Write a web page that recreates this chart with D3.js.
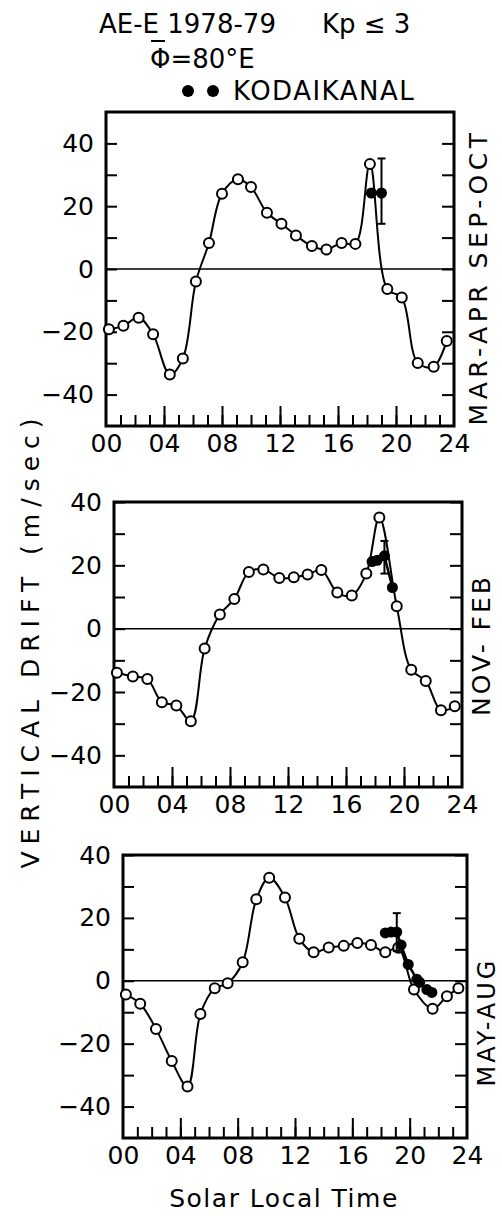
<!DOCTYPE html>
<html>
<head>
<meta charset="utf-8">
<script src="https://cdn.jsdelivr.net/npm/d3@7"></script>
<style>
  body { margin: 0; background: #fff; }
  svg { display: block; font-family: "DejaVu Sans", sans-serif; }
</style>
</head>
<body>
<svg id="chart"></svg>
<script>
// values (hours = solar local time, drift in m/s)
const seasons = ['MAR-APR SEP-OCT', 'NOV- FEB', 'MAY-AUG'];
const hourTicks = [0, 4, 8, 12, 16, 20, 24];
const driftTicks = [40, 20, 0, -20, -40];

// AE-E, equinox
const hoursEqu = [0.2, 1.2, 2.25, 3.25, 4.4, 5.3, 6.2, 7.1, 8.0, 9.1, 10.0, 11.1, 12.1, 13.1, 14.2, 15.2, 16.25, 17.2, 18.2, 19.4, 20.4, 21.5, 22.6, 23.5];
const driftEqu = [-19.2, -18.1, -15.5, -20.8, -33.6, -28.5, -4.0, 8.3, 24.0, 28.6, 26.1, 17.9, 14.4, 10.7, 7.3, 6.2, 8.3, 8.0, 33.4, -6.4, -9.1, -29.9, -31.1, -22.9];
const kodHoursEqu = [18.3, 19.0];
const kodDriftEqu = [24.2, 24.2];
const kodErrEqu = [19.0, 14.4, 35.2]; // hour, low, high

// AE-E, winter
const hoursWin = [0.2, 1.3, 2.3, 3.3, 4.3, 5.3, 6.25, 7.3, 8.3, 9.3, 10.3, 11.4, 12.4, 13.35, 14.3, 15.4, 16.4, 17.4, 18.3, 19.5, 20.5, 21.5, 22.55, 23.5];
const driftWin = [-13.9, -15.1, -15.9, -23.2, -24.3, -29.2, -6.3, 4.5, 9.4, 17.9, 18.7, 16.0, 16.2, 17.1, 18.5, 11.4, 10.5, 17.4, 35.1, 7.1, -13.0, -16.5, -25.8, -24.5];
const kodHoursWin = [17.8, 18.15, 18.65, 19.2];
const kodDriftWin = [21.2, 21.6, 23.0, 13.0];
const kodErrWin = [18.65, 17.4, 27.7];

// AE-E, summer
const hoursSum = [0.2, 1.2, 2.3, 3.4, 4.5, 5.4, 6.4, 7.3, 8.35, 9.3, 10.2, 11.3, 12.3, 13.3, 14.35, 15.4, 16.35, 17.3, 18.3, 19.2, 20.3, 21.6, 22.6, 23.4];
const driftSum = [-4.4, -7.3, -15.3, -25.5, -33.6, -10.6, -2.4, -0.8, 5.9, 25.9, 32.8, 26.5, 13.4, 9.1, 10.6, 11.1, 12.0, 11.4, 9.1, 10.5, -2.8, -8.9, -4.9, -2.4];
const kodHoursSum = [18.3, 18.7, 19.1, 19.4, 19.9, 20.5, 20.7, 21.2, 21.55];
const kodDriftSum = [15.2, 15.5, 15.5, 11.4, 5.2, 0.5, -0.5, -2.8, -3.7];
const kodErrSum = [19.1, 9.5, 21.5];

const panelData = [
  { hours: hoursEqu, drift: driftEqu, kh: kodHoursEqu, kd: kodDriftEqu, err: kodErrEqu },
  { hours: hoursWin, drift: driftWin, kh: kodHoursWin, kd: kodDriftWin, err: kodErrWin },
  { hours: hoursSum, drift: driftSum, kh: kodHoursSum, kd: kodDriftSum, err: kodErrSum }
];

// frame positions on the page
const frames = [
  { left: 106, right: 454, top: 112, bottom: 426, ymax: 50, lx: 478, ly: 277, ls: 4.5 },
  { left: 114, right: 462, top: 502, bottom: 787, ymax: 40, lx: 481, ly: 645, ls: 3 },
  { left: 123, right: 467, top: 855, bottom: 1138, ymax: 40, lx: 487, ly: 1022, ls: 3 }
];

const width = 502;
const height = 1216;

const svg = d3.select('#chart')
  .attr('width', width)
  .attr('height', height);

const minus = d => d < 0 ? '\u2212' + Math.abs(d) : '' + d;

frames.forEach((f, i) => {
  const d = panelData[i];
  const g = svg.append('g');

  const x = d3.scaleLinear().domain([0, 24]).range([f.left, f.right]);
  const y = d3.scaleLinear().domain([-50, f.ymax]).range([f.bottom, f.top]);

  // inward ticks
  g.append('g')
    .attr('transform', `translate(${f.left},0)`)
    .call(d3.axisLeft(y).tickValues(d3.range(-40, 41, 10)).tickSizeInner(-11).tickSizeOuter(0).tickFormat(''));
  g.append('g')
    .attr('transform', `translate(${f.right},0)`)
    .call(d3.axisRight(y).tickValues(d3.range(-40, 41, 10)).tickSizeInner(-12).tickSizeOuter(0).tickFormat(''));
  g.append('g')
    .attr('transform', `translate(0,${f.bottom})`)
    .call(d3.axisBottom(x).tickValues(d3.range(1, 24)).tickSizeInner(-11).tickSizeOuter(0).tickFormat(''));
  g.append('g')
    .attr('transform', `translate(0,${f.bottom})`)
    .call(d3.axisBottom(x).tickValues([4, 8, 12, 16, 20]).tickSizeInner(-20).tickSizeOuter(0).tickFormat(''));

  // tick labels
  g.append('g')
    .attr('class', 'lab')
    .attr('transform', `translate(${f.left},0)`)
    .call(d3.axisLeft(y).tickValues(driftTicks).tickSize(0).tickPadding(12).tickFormat(minus));
  g.append('g')
    .attr('class', 'lab')
    .attr('transform', `translate(0,${f.bottom})`)
    .call(d3.axisBottom(x).tickValues(hourTicks).tickSize(0).tickPadding(8).tickFormat(d3.format('02d')));

  g.selectAll('.domain').remove();
  g.selectAll('.tick line').attr('stroke', '#000').attr('stroke-width', 2);
  g.selectAll('.lab text')
    .attr('font-size', 25)
    .attr('font-family', '"DejaVu Sans", sans-serif')
    .attr('fill', '#000');

  // frame
  g.append('rect')
    .attr('x', f.left).attr('y', f.top)
    .attr('width', f.right - f.left).attr('height', f.bottom - f.top)
    .attr('fill', 'none').attr('stroke', '#000').attr('stroke-width', 3);

  // zero line
  g.append('line')
    .attr('x1', f.left).attr('x2', f.right)
    .attr('y1', y(0)).attr('y2', y(0))
    .attr('stroke', '#000').attr('stroke-width', 1.5);

  const pts = d.hours.map((h, j) => [h, d.drift[j]]);
  const kpts = d.kh.map((h, j) => [h, d.kd[j]]);

  const line = d3.line()
    .x(p => x(p[0]))
    .y(p => y(p[1]))
    .curve(d3.curveCatmullRom.alpha(0.5));

  g.append('path')
    .attr('d', line(pts))
    .attr('fill', 'none').attr('stroke', '#000').attr('stroke-width', 2);

  g.selectAll('.open')
    .data(pts)
    .enter()
    .append('circle')
    .attr('class', 'open')
    .attr('cx', p => x(p[0]))
    .attr('cy', p => y(p[1]))
    .attr('r', 5)
    .attr('fill', '#fff')
    .attr('stroke', '#000')
    .attr('stroke-width', 2);

  g.append('path')
    .attr('d', d3.line().x(p => x(p[0])).y(p => y(p[1]))(kpts))
    .attr('fill', 'none').attr('stroke', '#000').attr('stroke-width', 2.5);

  // error bar
  const [eh, elo, ehi] = d.err;
  g.append('line')
    .attr('x1', x(eh)).attr('x2', x(eh))
    .attr('y1', y(elo)).attr('y2', y(ehi))
    .attr('stroke', '#000').attr('stroke-width', 2);
  [elo, ehi].forEach(v => {
    g.append('line')
      .attr('x1', x(eh) - 4).attr('x2', x(eh) + 4)
      .attr('y1', y(v)).attr('y2', y(v))
      .attr('stroke', '#000').attr('stroke-width', 2);
  });

  g.selectAll('.kod')
    .data(kpts)
    .enter()
    .append('circle')
    .attr('class', 'kod')
    .attr('cx', p => x(p[0]))
    .attr('cy', p => y(p[1]))
    .attr('r', 5.5)
    .attr('fill', '#000');

  // season label
  svg.append('text')
    .attr('transform', `translate(${f.lx},${f.ly}) rotate(-90)`)
    .attr('text-anchor', 'middle')
    .attr('dominant-baseline', 'central')
    .attr('font-size', i === 2 ? 24 : 25)
    .attr('letter-spacing', f.ls)
    .text(seasons[i]);
});

// titles
svg.append('text').attr('x', 99).attr('y', 33).attr('font-size', 26).text('AE-E 1978-79');
svg.append('text').attr('x', 322).attr('y', 33).attr('font-size', 26).text('Kp \u2264 3');
svg.append('text').attr('x', 150).attr('y', 68).attr('font-size', 26).text('\u03A6=80\u00B0E');
svg.append('line')
  .attr('x1', 151).attr('x2', 165).attr('y1', 41).attr('y2', 41)
  .attr('stroke', '#000').attr('stroke-width', 2);
svg.selectAll('.legdot')
  .data([188, 213])
  .enter()
  .append('circle')
  .attr('cx', d => d)
  .attr('cy', 91)
  .attr('r', 6)
  .attr('fill', '#000');
svg.append('text').attr('x', 233).attr('y', 100).attr('font-size', 26).attr('letter-spacing', 1.5).text('KODAIKANAL');

// axis titles
svg.append('text')
  .attr('transform', 'translate(30,640) rotate(-90)')
  .attr('text-anchor', 'middle')
  .attr('dominant-baseline', 'central')
  .attr('font-size', 25)
  .attr('letter-spacing', 7)
  .text('VERTICAL DRIFT (m/sec)');

svg.append('text')
  .attr('x', 284)
  .attr('y', 1207)
  .attr('text-anchor', 'middle')
  .attr('font-size', 25)
  .attr('letter-spacing', 1.5)
  .text('Solar Local Time');
</script>
</body>
</html>
